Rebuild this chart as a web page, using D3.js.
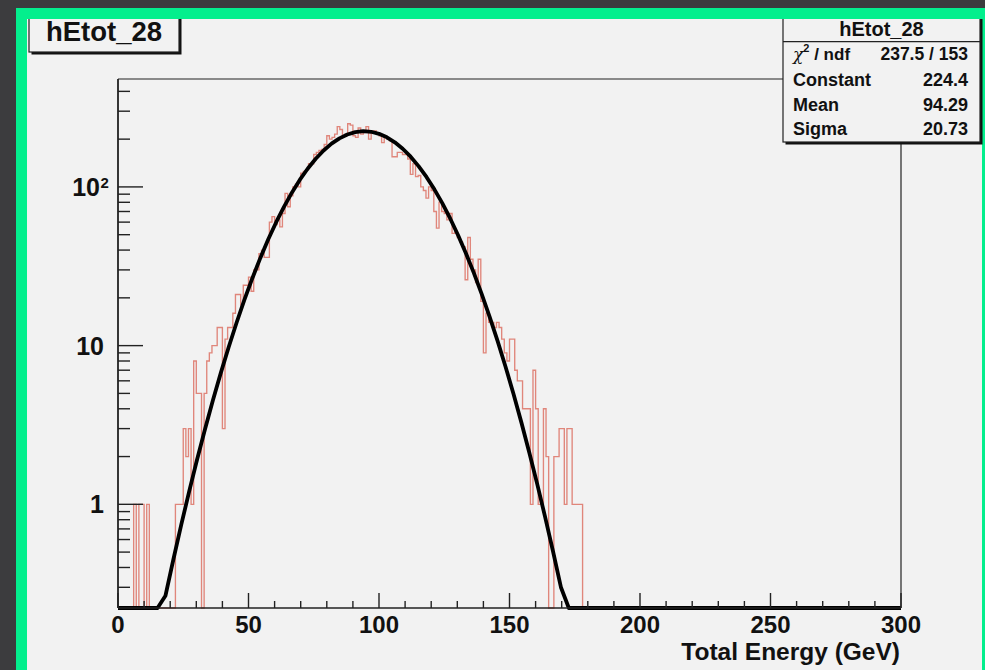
<!DOCTYPE html>
<html><head><meta charset="utf-8">
<script src="https://cdn.jsdelivr.net/npm/d3@7"></script>
<style>html,body{margin:0;padding:0;background:#3c3c3e;} svg{display:block;}</style>
</head><body><svg id="c" width="985" height="670"></svg>
<script>
// ---------------- data ----------------
const histTitle = "hEtot_28";
const xTitle = "Total Energy (GeV)";
const xDomain = [0, 300];
const yDomain = [0.2222, 478.6];
// bin contents, 1 GeV bins from 0 to 300
const counts = [
  0,0,0,0,0, 0,1,0,1,1, 0,1,0,0,0, 0,0,0,0,0,              // 0-19
  0,0,1,1,1, 3,2,3,1,8, 5,5,0,5,8, 9,10,10,13,13,         // 20-39
  3,11,13,13,16, 21,21,18,24,24, 27,22,30,30,38, 40,36,36,60,65, // 40-59
  58,62,56,68,91, 75,88,100,104,100, 122,125,128,140,140, 160,165,170,172,185, // 60-79
  210,200,205,215,240, 230,210,215,250,245, 210,205,235,215,220, 240,200,225,225,220, // 80-99
  210,190,205,200,195, 155,155,165,165,160, 160,150,120,140,116, 118,100,95,85,100, // 100-119
  95,70,55,80,70, 68,62,68,51,52, 48,45,42,26,48, 35,30,25,35,19, // 120-139
  9,16,14,14,13, 14,13,11,9,8, 11,11,7,6,6, 4,4,4,1,7,     // 140-159
  4,1,1,4,2, 0,0,2,2,3, 3,1,3,3,1, 1,1,1,0,0,               // 160-179
  0,0,0,0,0,0,0,0,0,0, 0,0,0,0,0,0,0,0,0,0,                // 180-199
  0,0,0,0,0,0,0,0,0,0, 0,0,0,0,0,0,0,0,0,0,                // 200-219
  0,0,0,0,0,0,0,0,0,0, 0,0,0,0,0,0,0,0,0,0,                // 220-239
  0,0,0,0,0,0,0,0,0,0, 0,0,0,0,0,0,0,0,0,0,                // 240-259
  0,0,0,0,0,0,0,0,0,0, 0,0,0,0,0,0,0,0,0,0,                // 260-279
  0,0,0,0,0,0,0,0,0,0, 0,0,0,0,0,0,0,0,0,0                 // 280-299
];
const xMajorTicks = [0, 50, 100, 150, 200, 250, 300];
const yMajorTicks = [1, 10, 100];
const yMajorLabels = [["1", ""], ["10", ""], ["10", "2"]];
// Gaussian fit: Constant, Mean, Sigma
const fitParams = [224.4, 94.29, 20.73];
const fitPoints = 100;
const statsNames = ["Constant", "Mean", "Sigma"];
const statsValues = ["224.4", "94.29", "20.73"];
const chi2Value = "237.5 / 153";

// ---------------- drawing ----------------
const svg = d3.select("#c");
const W = 985, H = 670;
const F = {left: 118, right: 901, top: 79, bottom: 608};
const font = "'Liberation Sans', Arial, Helvetica, sans-serif";

svg.append("rect").attr("width", W).attr("height", H).attr("fill", "#3c3c3e");
svg.append("rect").attr("x", 16).attr("y", 8).attr("width", W - 16).attr("height", H - 8).attr("fill", "#03ef8d");
svg.append("rect").attr("x", 27).attr("y", 19).attr("width", 955).attr("height", H - 19).attr("fill", "#f2f2f2");

const x = d3.scaleLinear().domain(xDomain).range([F.left, F.right]);
const y = d3.scaleLog().domain(yDomain).range([F.bottom, F.top]);
const yMin = yDomain[0];

const defs = svg.append("defs");
defs.append("clipPath").attr("id", "frameClip").append("rect")
  .attr("x", F.left).attr("y", F.top).attr("width", F.right - F.left).attr("height", F.bottom - F.top + 3);

// histogram step outline
const nb = counts.length;
const bw = (xDomain[1] - xDomain[0]) / nb;
const stepPts = [];
counts.forEach((c, i) => {
  const lo = xDomain[0] + i * bw;
  stepPts.push([lo, c]);
  stepPts.push([lo + bw, c]);
});
const hLine = d3.line().x(d => x(d[0])).y(d => y(Math.max(d[1], yMin)));
svg.append("path").datum(stepPts).attr("d", hLine)
  .attr("fill", "none").attr("stroke", "#e0867b").attr("stroke-width", 1.35)
  .attr("clip-path", "url(#frameClip)");

// fit curve
const [C0, M0, S0] = fitParams;
const curvePts = d3.range(fitPoints).map(k => {
  const xv = xDomain[0] + k * (xDomain[1] - xDomain[0]) / (fitPoints - 1);
  return [xv, C0 * Math.exp(-0.5 * Math.pow((xv - M0) / S0, 2))];
});
svg.append("path").datum(curvePts).attr("d", hLine)
  .attr("fill", "none").attr("stroke", "#000").attr("stroke-width", 3.8)
  .attr("stroke-linejoin", "round")
  .attr("clip-path", "url(#frameClip)");

// frame top / right
svg.append("line").attr("x1", F.left).attr("x2", F.right).attr("y1", F.top).attr("y2", F.top)
  .attr("stroke", "#222").attr("stroke-width", 1.2);
svg.append("line").attr("x1", F.right).attr("x2", F.right).attr("y1", F.top).attr("y2", F.bottom)
  .attr("stroke", "#222").attr("stroke-width", 1.2);

// x axis
const gx = svg.append("g");
gx.append("line").attr("x1", F.left).attr("x2", F.right).attr("y1", F.bottom).attr("y2", F.bottom)
  .attr("stroke", "#222").attr("stroke-width", 1.5);
x.ticks(30).forEach(t => {
  const major = xMajorTicks.includes(t);
  gx.append("line").attr("x1", x(t)).attr("x2", x(t))
    .attr("y1", F.bottom).attr("y2", F.bottom - (major ? 15 : 7))
    .attr("stroke", "#222").attr("stroke-width", 1.4);
});
xMajorTicks.forEach(t => {
  gx.append("text").attr("x", x(t)).attr("y", 633).attr("text-anchor", "middle")
    .attr("font-family", font).attr("font-weight", "bold").attr("font-size", 24)
    .attr("fill", "#111").text(t);
});
gx.append("text").attr("x", 900).attr("y", 660).attr("text-anchor", "end")
  .attr("font-family", font).attr("font-weight", "bold").attr("font-size", 24.5)
  .attr("fill", "#111").text(xTitle);

// y axis
const gy = svg.append("g");
gy.append("line").attr("x1", F.left).attr("x2", F.left).attr("y1", F.top).attr("y2", F.bottom)
  .attr("stroke", "#222").attr("stroke-width", 1.8);
y.ticks().filter(t => t >= yDomain[0] && t <= yDomain[1]).forEach(t => {
  const major = yMajorTicks.includes(t);
  gy.append("line").attr("x1", F.left).attr("x2", F.left + (major ? 25 : 12))
    .attr("y1", y(t)).attr("y2", y(t)).attr("stroke", "#222").attr("stroke-width", 1.4);
});
yMajorTicks.forEach((t, i) => {
  const [base, sup] = yMajorLabels[i];
  const txt = gy.append("text").attr("y", y(t) + 9)
    .attr("font-family", font).attr("font-weight", "bold").attr("font-size", 25)
    .attr("fill", "#111").attr("text-anchor", "end");
  if (sup) {
    txt.attr("x", 100).text(base);
    gy.append("text").attr("x", 100.5).attr("y", y(t) + 1)
      .attr("font-family", font).attr("font-weight", "bold").attr("font-size", 15)
      .attr("fill", "#111").text(sup);
  } else {
    txt.attr("x", 104).text(base);
  }
});

// title box
const tb = {x: 29, y: 15, w: 150, h: 37};
svg.append("rect").attr("x", tb.x + 2.5).attr("y", tb.y + 2.5).attr("width", tb.w).attr("height", tb.h).attr("fill", "#111");
svg.append("rect").attr("x", tb.x).attr("y", tb.y).attr("width", tb.w).attr("height", tb.h)
  .attr("fill", "#f2f2f2").attr("stroke", "#222").attr("stroke-width", 1.2);
svg.append("text").attr("x", tb.x + tb.w / 2).attr("y", 41).attr("text-anchor", "middle")
  .attr("font-family", font).attr("font-weight", "bold").attr("font-size", 27.5)
  .attr("fill", "#111").text(histTitle);

// stats box
const sb = {x: 783, y: 15, w: 197, h: 127};
svg.append("rect").attr("x", sb.x + 2.5).attr("y", sb.y + 2.5).attr("width", sb.w).attr("height", sb.h).attr("fill", "#111");
svg.append("rect").attr("x", sb.x).attr("y", sb.y).attr("width", sb.w).attr("height", sb.h)
  .attr("fill", "#f2f2f2").attr("stroke", "#222").attr("stroke-width", 1.2);
svg.append("line").attr("x1", sb.x).attr("x2", sb.x + sb.w).attr("y1", 41.7).attr("y2", 41.7)
  .attr("stroke", "#222").attr("stroke-width", 1.2);
svg.append("text").attr("x", sb.x + sb.w / 2).attr("y", 36).attr("text-anchor", "middle")
  .attr("font-family", font).attr("font-weight", "bold").attr("font-size", 20)
  .attr("fill", "#111").text(histTitle);
const rowY = [60, 86, 110.7, 135];
// chi2 row
const chi = svg.append("text").attr("x", 793).attr("y", rowY[0])
  .attr("font-family", font).attr("font-weight", "bold").attr("font-size", 17).attr("fill", "#111");
chi.append("tspan").attr("font-family", "'DejaVu Serif', serif").attr("font-style", "italic").attr("font-weight", "normal").text("\u03c7");
chi.append("tspan").attr("font-size", 11).attr("dy", -8).text("2");
chi.append("tspan").attr("dy", 8).text(" / ndf");
svg.append("text").attr("x", 968).attr("y", rowY[0]).attr("text-anchor", "end")
  .attr("font-family", font).attr("font-weight", "bold").attr("font-size", 17.5)
  .attr("fill", "#111").text(chi2Value);
statsNames.forEach((n, i) => {
  svg.append("text").attr("x", 793).attr("y", rowY[i + 1])
    .attr("font-family", font).attr("font-weight", "bold").attr("font-size", 18)
    .attr("fill", "#111").text(n);
  svg.append("text").attr("x", 968).attr("y", rowY[i + 1]).attr("text-anchor", "end")
    .attr("font-family", font).attr("font-weight", "bold").attr("font-size", 18)
    .attr("fill", "#111").text(statsValues[i]);
});

// green top band drawn over the boxes (boxes tuck under it)
svg.append("rect").attr("x", 16).attr("y", 8).attr("width", W - 16).attr("height", 11).attr("fill", "#03ef8d");
svg.append("rect").attr("x", 0).attr("y", 0).attr("width", W).attr("height", 8).attr("fill", "#3c3c3e");
</script></body></html>
